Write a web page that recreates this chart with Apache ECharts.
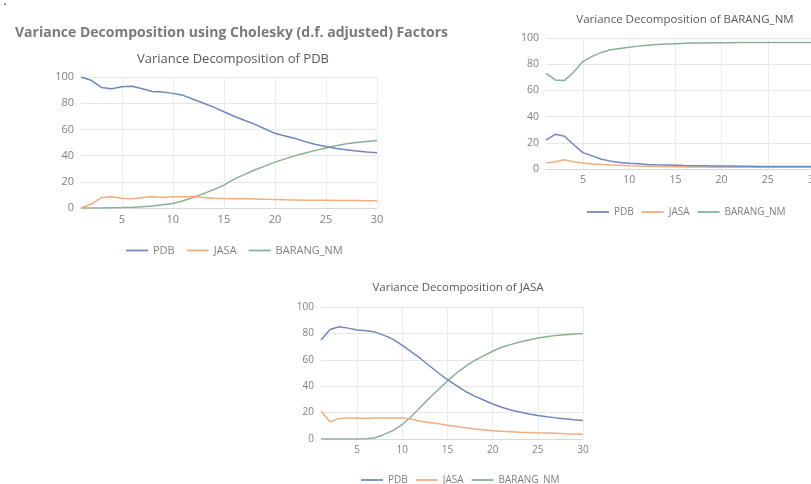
<!DOCTYPE html>
<html>
<head>
<meta charset="utf-8">
<script src="https://cdn.jsdelivr.net/npm/echarts@6/dist/echarts.min.js"></script>
<style>
  html, body { margin: 0; padding: 0; background: #fff; overflow: hidden; }
  /* wider than the window: the right chart is cut off at the edge like in the source */
  #chart { width: 840px; height: 484px; }
</style>
</head>
<body>
<div id="chart"></div>
<script>
// periods 1..30
const periods = Array.from({ length: 30 }, (_, i) => String(i + 1));
const yTicks = [0, 20, 40, 60, 80, 100];

// Variance Decomposition of PDB
const pdbOnPdb = [100, 97.5, 92, 91, 92.5, 93, 91, 89, 88.5, 87.5, 86, 83, 80, 77, 73.5, 70, 67, 64, 60.5, 57, 55, 53, 50.5, 48.5, 47, 45.5, 44.5, 43.5, 42.8, 42.2];
const jasaOnPdb = [0, 3, 8, 8.5, 7.5, 7, 8, 8.5, 8, 8.5, 8.5, 8.8, 8, 7.5, 7.2, 7, 7, 6.8, 6.6, 6.5, 6.3, 6.2, 6, 6, 5.9, 5.8, 5.8, 5.7, 5.6, 5.5];
const barangOnPdb = [0, 0, 0, 0.2, 0.3, 0.5, 1, 1.5, 2.5, 3.5, 5.5, 8, 11, 14, 17.5, 22, 25.5, 29, 32, 35, 37.5, 40, 42, 44, 45.8, 47.5, 49, 50, 50.8, 51.5];

// Variance Decomposition of BARANG_NM
const pdbOnBarang = [22, 26.5, 25, 18.5, 12.5, 10, 7.5, 6, 5, 4.4, 4, 3.5, 3.2, 3, 2.8, 2.6, 2.5, 2.4, 2.3, 2.2, 2.2, 2.1, 2.1, 2, 2, 2, 2, 2, 2, 2];
const jasaOnBarang = [4.5, 5.5, 7, 5.5, 4.5, 3.8, 3.5, 3, 2.8, 2.5, 2.3, 2.1, 1.9, 1.8, 1.7, 1.6, 1.5, 1.5, 1.4, 1.4, 1.4, 1.4, 1.4, 1.4, 1.4, 1.4, 1.4, 1.4, 1.4, 1.4];
const barangOnBarang = [73, 68, 67.5, 74, 82, 86, 89, 91, 92, 93, 93.8, 94.5, 95, 95.4, 95.7, 96, 96.1, 96.2, 96.3, 96.4, 96.4, 96.5, 96.5, 96.5, 96.5, 96.5, 96.5, 96.5, 96.5, 96.5];

// Variance Decomposition of JASA
const pdbOnJasa = [75, 83, 85, 84, 82.5, 82, 81, 78.5, 75.5, 71, 66, 61, 55.5, 50, 45, 40.5, 36, 32.5, 29.5, 26.5, 24, 22, 20.5, 19, 17.8, 16.8, 16, 15.3, 14.6, 14];
const jasaOnJasa = [21, 13, 15.5, 16, 16, 15.5, 16, 16, 16, 16, 15, 13.5, 12.5, 11.5, 10.5, 9.5, 8.5, 7.5, 7, 6.3, 5.8, 5.5, 5.2, 5, 4.7, 4.5, 4.3, 4, 3.8, 3.6];
const barangOnJasa = [0, 0, 0, 0, 0, 0.2, 1, 3.5, 6.5, 11, 17, 24, 31, 37.5, 44, 50, 55, 59.5, 63, 66.5, 69.5, 71.5, 73.5, 75, 76.5, 77.5, 78.5, 79, 79.5, 80];

const seriesNames = ["PDB", "JASA", "BARANG_NM"];
const colors = ["#6f87bf", "#f1ad80", "#86b193"];
const font = "Open Sans";

const chart = echarts.init(document.getElementById("chart"));

const every5 = (idx) => (idx + 1) % 5 === 0;

// the three panels were pasted at slightly different scales
const labelSize = [11, 10.5, 10];
const legendSize = [11, 10, 10];
const subTitleSize = [13, 11.5, 11.5];

function xAxis(g) {
  return {
    type: "category",
    gridIndex: g,
    data: periods,
    boundaryGap: false,
    axisTick: { show: false },
    axisLine: { lineStyle: { color: "#d9d9d9" } },
    axisLabel: { interval: every5, color: "#7f7f7f", fontSize: labelSize[g], fontFamily: font, margin: 6 },
    splitLine: { show: true, interval: every5, lineStyle: { color: "#ececec" } }
  };
}

function yAxis(g) {
  return {
    type: "value",
    gridIndex: g,
    min: yTicks[0],
    max: yTicks[yTicks.length - 1],
    interval: 20,
    axisLine: { show: false },
    axisTick: { show: false },
    axisLabel: { color: "#7f7f7f", fontSize: labelSize[g], fontFamily: font, margin: 7 },
    splitLine: { lineStyle: { color: "#e6e6e6" } }
  };
}

function lines(g, values) {
  return values.map((v, i) => ({
    name: seriesNames[i],
    type: "line",
    xAxisIndex: g,
    yAxisIndex: g,
    data: v,
    symbol: "none",
    lineStyle: { width: 1.5, color: colors[i] },
    itemStyle: { color: colors[i] },
    z: 3 - i
  }));
}

function legend(g, left, top, gap) {
  return {
    left: left,
    top: top,
    data: seriesNames,
    icon: "path://M0,0 L1,0 L1,0.08 L0,0.08 Z",
    itemWidth: 22,
    itemHeight: 2,
    itemGap: gap,
    textStyle: { color: "#7f7f7f", fontSize: legendSize[g], fontFamily: font }
  };
}

function subTitle(g, text, x, top) {
  return {
    text: text, left: x, top: top, textAlign: "center",
    textStyle: { color: "#595959", fontSize: subTitleSize[g], fontWeight: "normal", fontFamily: font }
  };
}

chart.setOption({
  backgroundColor: "#fff",
  animation: false,
  color: colors,
  title: [
    {
      text: "Variance Decomposition using Cholesky (d.f. adjusted) Factors",
      left: 10, top: 21,
      textStyle: { color: "#7a7a7a", fontSize: 14, fontWeight: "bold", fontFamily: font }
    },
    subTitle(0, "Variance Decomposition of PDB", 228, 48),
    subTitle(1, "Variance Decomposition of BARANG_NM", 680, 9),
    subTitle(2, "Variance Decomposition of JASA", 453, 277)
  ],
  graphic: [
    { type: "text", left: 3, top: -6, style: { text: ".", fontSize: 14, fill: "#333" } }
  ],
  grid: [
    { left: 81, top: 77, width: 296, height: 131 },
    { left: 546, top: 38, width: 268, height: 131 },
    { left: 321, top: 307, width: 262, height: 132 }
  ],
  xAxis: [xAxis(0), xAxis(1), xAxis(2)],
  yAxis: [yAxis(0), yAxis(1), yAxis(2)],
  legend: [legend(0, 121, 240, 12), legend(1, 582, 202, 8), legend(2, 356, 470, 8)],
  series: [
    ...lines(0, [pdbOnPdb, jasaOnPdb, barangOnPdb]),
    ...lines(1, [pdbOnBarang, jasaOnBarang, barangOnBarang]),
    ...lines(2, [pdbOnJasa, jasaOnJasa, barangOnJasa])
  ]
});
</script>
</body>
</html>
